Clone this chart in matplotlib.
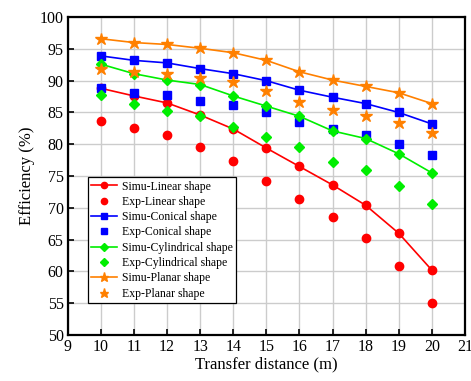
import matplotlib.pyplot as plt

plt.rcParams['font.family'] = ['Liberation Serif', 'DejaVu Serif']

# transfer distance (m)
distance = [10, 11, 12, 13, 14, 15, 16, 17, 18, 19, 20]

# efficiency (%)
simu_linear = [88.8, 87.6, 86.5, 84.6, 82.4, 79.4, 76.5, 73.6, 70.4, 66.0, 60.2]
exp_linear = [83.6, 82.5, 81.4, 79.5, 77.3, 74.2, 71.4, 68.5, 65.3, 60.9, 55.0]
simu_conical = [93.9, 93.2, 92.8, 91.9, 91.1, 90.0, 88.5, 87.4, 86.4, 85.0, 83.2]
exp_conical = [88.9, 88.1, 87.8, 86.8, 86.1, 85.0, 83.5, 82.4, 81.4, 80.1, 78.3]
simu_cyl = [92.6, 91.1, 90.1, 89.4, 87.6, 86.0, 84.4, 82.1, 80.9, 78.5, 75.5]
exp_cyl = [87.7, 86.3, 85.3, 84.5, 82.7, 81.2, 79.6, 77.2, 76.0, 73.5, 70.6]
simu_planar = [96.6, 96.0, 95.7, 95.1, 94.4, 93.2, 91.4, 90.1, 89.1, 88.1, 86.4]
exp_planar = [91.9, 91.3, 91.0, 90.4, 89.8, 88.4, 86.6, 85.4, 84.4, 83.4, 81.7]

fig = plt.figure(figsize=(4.71, 3.81), dpi=100)
ax = fig.add_axes([0.144, 0.121, 0.843, 0.834])

ax.plot(distance, simu_linear, '-o', color='red', ms=6, lw=1.2, label='Simu-Linear shape')
ax.plot(distance, exp_linear, 'o', color='red', ms=6, label='Exp-Linear shape')
ax.plot(distance, simu_conical, '-s', color='blue', ms=5.5, lw=1.2, label='Simu-Conical shape')
ax.plot(distance, exp_conical, 's', color='blue', ms=5.5, label='Exp-Conical shape')
ax.plot(distance, simu_cyl, '-D', color='#00ee00', ms=5.5, lw=1.2, label='Simu-Cylindrical shape')
ax.plot(distance, exp_cyl, 'D', color='#00ee00', ms=5.5, label='Exp-Cylindrical shape')
ax.plot(distance, simu_planar, '-*', color='#ff8000', ms=9, lw=1.2, label='Simu-Planar shape')
ax.plot(distance, exp_planar, '*', color='#ff8000', ms=9, label='Exp-Planar shape')

ax.set_xlim(9, 21)
ax.set_ylim(50, 100)
ax.set_xticks(range(9, 22))
ax.set_yticks(range(50, 101, 5))
ax.grid(True, color='#cccccc', lw=1.0)
ax.set_axisbelow(True)
ax.tick_params(direction='in', width=1.2, length=4, labelsize=11.5, pad=3)
for s in ax.spines.values():
    s.set_linewidth(1.6)

ax.set_xlabel('Transfer distance (m)', fontsize=12, labelpad=1)
ax.set_ylabel('Efficiency (%)', fontsize=12, labelpad=3)

leg = ax.legend(loc='upper left', bbox_to_anchor=(0.05, 0.497), fontsize=8.5,
                frameon=True, fancybox=False, edgecolor='black', framealpha=1,
                borderpad=0.3, labelspacing=0.28, handlelength=2.2,
                handletextpad=0.4, borderaxespad=0, markerscale=0.75)
leg.get_frame().set_linewidth(0.9)

fig.savefig('out.png', dpi=100)
